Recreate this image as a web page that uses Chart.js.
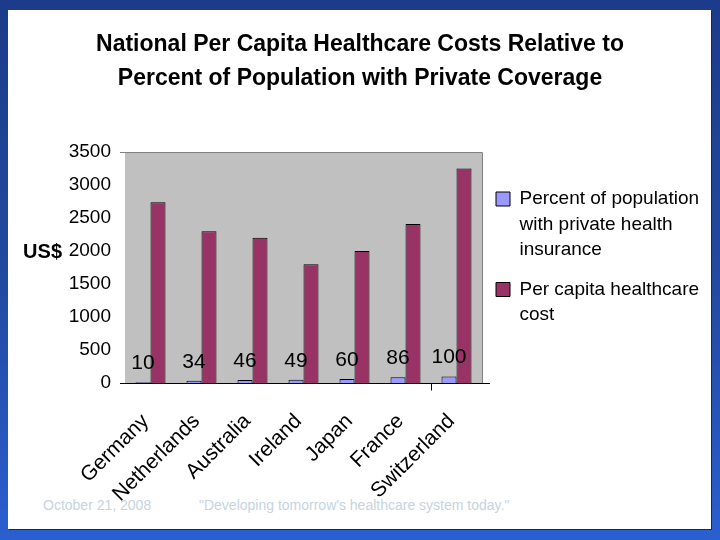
<!DOCTYPE html>
<html>
<head>
<meta charset="utf-8">
<script src="https://cdn.jsdelivr.net/npm/chart.js@4.4.0/dist/chart.umd.min.js"></script>
<style>
html,body{margin:0;padding:0;width:720px;height:540px;overflow:hidden}
body{background:linear-gradient(180deg,#1c3b8a 0%,#22499f 50%,#2b5ecf 100%);position:relative;font-family:'Liberation Sans',Arial,sans-serif}
#panel{position:absolute;left:8px;top:10px;width:703px;height:519px;background:#fff;box-shadow:1px 1px 0 #0e2a66}
.foot{position:absolute;top:496px;font-size:14px;line-height:18px;color:#c6d4de;white-space:nowrap}
#wrap{position:absolute;left:0;top:0;width:720px;height:540px}
</style>
</head>
<body>
<div id="panel"></div>
<div class="foot" style="left:43px">October 21, 2008</div>
<div class="foot" style="left:199px">"Developing tomorrow's healthcare system today."</div>
<div id="wrap"><canvas id="c" width="720" height="540"></canvas></div>
<script>
// ---- data ----
const categories = ['Germany', 'Netherlands', 'Australia', 'Ireland', 'Japan', 'France', 'Switzerland'];
const privateCoveragePct = [10, 34, 46, 49, 60, 86, 100];
const perCapitaCost = [2740, 2300, 2200, 1800, 2000, 2410, 3250];
const seriesNames = [
  ['Percent of population', 'with private health', 'insurance'],
  ['Per capita healthcare', 'cost']
];
const titleLines = ['National Per Capita Healthcare Costs Relative to', 'Percent of Population with Private Coverage'];
const yAxisLabel = 'US$';
const yMin = 0, yMax = 3500, yStep = 500;

// ---- style ----
const FAM = "'Liberation Sans', Arial, Helvetica, sans-serif";
const BLUE = '#9999ff', MAROON = '#993366';
const CANVAS_W = 720;
const target = {left: 125, right: 482, top: 152, bottom: 383};

const plotDecor = {
  id: 'plotDecor',
  beforeDatasetsDraw(chart) {
    const {ctx, chartArea: a} = chart;
    ctx.save();
    ctx.fillStyle = '#c0c0c0';
    ctx.fillRect(a.left, a.top, a.right - a.left, a.bottom - a.top);
    ctx.strokeStyle = '#808080';
    ctx.lineWidth = 1;
    ctx.beginPath();
    ctx.moveTo(a.left - 5, Math.round(a.top) + 0.5);
    ctx.lineTo(Math.round(a.right) + 0.5, Math.round(a.top) + 0.5);
    ctx.lineTo(Math.round(a.right) + 0.5, a.bottom);
    ctx.stroke();
    ctx.restore();
  },
  afterDatasetsDraw(chart) {
    const {ctx, chartArea: a, scales} = chart;
    ctx.save();
    ctx.strokeStyle = '#000';
    ctx.lineWidth = 1;
    const yb = Math.round(a.bottom) + 0.5;
    ctx.beginPath();
    ctx.moveTo(a.left - 5, yb);
    ctx.lineTo(a.right + 8, yb);
    const xb = Math.round((scales.x.getPixelForValue(5) + scales.x.getPixelForValue(6)) / 2) + 0.5;
    ctx.moveTo(xb, yb);
    ctx.lineTo(xb, yb + 7);
    ctx.stroke();
    // data labels for the percent series
    const meta = chart.getDatasetMeta(0);
    ctx.fillStyle = '#000';
    ctx.font = '21px ' + FAM;
    ctx.textAlign = 'center';
    ctx.textBaseline = 'alphabetic';
    meta.data.forEach((bar, i) => {
      ctx.fillText(String(privateCoveragePct[i]), bar.x, bar.y - 13);
    });
    // y axis label
    ctx.font = 'bold 20px ' + FAM;
    ctx.textAlign = 'right';
    ctx.textBaseline = 'middle';
    ctx.fillText(yAxisLabel, 62, scales.y.getPixelForValue(2000) + 1);
    ctx.restore();
  }
};

const pads = {layout: {left: 0, right: 0, top: 0, bottom: 40}, titleBottom: 56};
let chart;

function build() {
  if (chart) chart.destroy();
  chart = new Chart(document.getElementById('c'), {
    type: 'bar',
    data: {
      labels: categories,
      datasets: [
        {label: 'Percent of population with private health insurance', data: privateCoveragePct,
         backgroundColor: BLUE, borderColor: '#000', borderWidth: 1},
        {label: 'Per capita healthcare cost', data: perCapitaCost,
         backgroundColor: MAROON, borderColor: '#000', borderWidth: 1}
      ]
    },
    options: {
      responsive: false,
      animation: false,
      devicePixelRatio: 1,
      layout: {padding: Object.assign({}, pads.layout)},
      datasets: {bar: {categoryPercentage: 30 / 51, barPercentage: 1}},
      scales: {
        x: {
          grid: {display: false, drawTicks: false},
          border: {display: false},
          ticks: {color: '#000', font: {family: FAM, size: 21}, minRotation: 45, maxRotation: 45,
                  autoSkip: false, padding: 26, labelOffset: -5}
        },
        y: {
          min: yMin, max: yMax,
          grid: {display: false, drawTicks: false},
          border: {display: false},
          ticks: {stepSize: yStep, color: '#000', font: {family: FAM, size: 19}, padding: 14,
                  callback: (v) => String(v)},
          afterFit(s) { s.width = target.left - pads.layout.left; }
        }
      },
      plugins: {
        tooltip: {enabled: false},
        title: {
          display: true, text: titleLines, color: '#000',
          font: {family: FAM, size: 23, weight: 'bold', lineHeight: 34 / 23},
          padding: {top: 28, bottom: pads.titleBottom}
        },
        legend: {
          position: 'right', align: 'start', fullSize: false, maxWidth: 400,
          title: {display: true, text: '', padding: 0, font: {family: FAM, size: 12, lineHeight: '23.5px'}},
          labels: {
            boxWidth: 14, boxHeight: 14, padding: 14, color: '#000',
            font: {family: FAM, size: 19, lineHeight: 25.5 / 19},
            generateLabels(c) {
              return c.data.datasets.map((ds, i) => ({
                text: seriesNames[i], fillStyle: ds.backgroundColor, strokeStyle: '#000',
                fontColor: '#000', lineWidth: 1, hidden: false, datasetIndex: i
              }));
            }
          }
        }
      }
    },
    plugins: [plotDecor]
  });
  // give the legend the full strip to the right of the plot
  const lg = chart.legend;
  const origFit = lg.fit;
  lg.fit = function () { origFit.call(this); this.width = CANVAS_W - target.right - pads.layout.right; };
  chart.update('none');
}

build();
for (let k = 0; k < 3; k++) {
  const a = chart.chartArea;
  const dB = a.bottom - target.bottom, dT = target.top - a.top;
  if (Math.abs(dB) < 0.5 && Math.abs(dT) < 0.5) break;
  pads.layout.bottom += dB;
  pads.titleBottom += dT;
  build();
}
</script>
</body>
</html>
